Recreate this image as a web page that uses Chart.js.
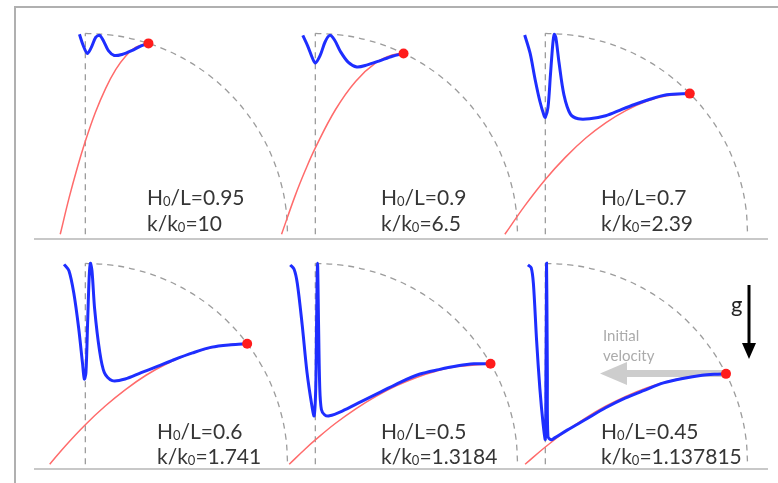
<!DOCTYPE html>
<html>
<head>
<meta charset="utf-8">
<script src="https://cdn.jsdelivr.net/npm/chart.js@4"></script>
<style>
  html, body { margin: 0; padding: 0; background: #fff; }
  #stage { position: relative; z-index: 0; width: 778px; height: 483px; overflow: hidden; font-family: Lato, "Open Sans", sans-serif; }
  .frame { position: absolute; left: 14px; top: 6px; width: 780px; height: 490px; border-top: 2px solid #b0b0b0; border-left: 2px solid #b0b0b0; }
  .ground { position: absolute; left: 34px; width: 734px; height: 2px; background: #c8c8c8; }
  canvas.panel { position: absolute; }
  .lbl { position: absolute; color: #363636; font-size: 21px; line-height: 1; white-space: nowrap; }
  .lbl .s { font-size: 13px; position: relative; top: 1px; }
  svg { position: absolute; left: 0; top: 0; }
</style>
</head>
<body>
<div id="stage">
  <div class="frame"></div>
  <div class="ground" style="top:238px"></div>
  <div class="ground" style="top:468px"></div>
  <svg width="778" height="483">
    <rect x="624" y="370" width="106" height="7" fill="#cdcdcd"/>
    <polygon points="627,362 627,385 600,373.5" fill="#cdcdcd"/>
  </svg>
</div>
<script>
// panel labels
const hRatio = ['0.95', '0.9', '0.7', '0.6', '0.5', '0.45'];
const kRatio = ['10', '6.5', '2.39', '1.741', '1.3184', '1.137815'];

// release point of each rod (red dot), in units of L
const dotX = [0.312, 0.436, 0.714, 0.8, 0.866, 0.893];
const dotY = [0.95, 0.9, 0.7, 0.6, 0.5, 0.45];

// rod shapes (blue)
const rod1 = [[-0.029, 0.995], [-0.010, 0.938], [0.010, 0.900], [0.029, 0.929], [0.052, 0.981], [0.071, 0.990],
  [0.090, 0.962], [0.114, 0.914], [0.143, 0.890], [0.181, 0.895], [0.229, 0.914], [0.276, 0.938], [0.312, 0.95]];
const rod2 = [[-0.062, 0.990], [-0.038, 0.938], [-0.014, 0.876], [0.0, 0.852], [0.024, 0.890], [0.048, 0.957],
  [0.071, 0.990], [0.095, 0.967], [0.124, 0.910], [0.162, 0.857], [0.205, 0.833], [0.257, 0.843], [0.314, 0.862],
  [0.381, 0.886], [0.436, 0.9]];
const rod3 = [[-0.102, 0.992], [-0.075, 0.900], [-0.051, 0.773], [-0.027, 0.662], [-0.006, 0.590], [0.0, 0.582],
  [0.013, 0.630], [0.025, 0.789], [0.037, 0.948], [0.044, 0.995], [0.052, 0.979], [0.068, 0.852], [0.092, 0.694],
  [0.124, 0.598], [0.163, 0.575], [0.219, 0.575], [0.298, 0.590], [0.378, 0.622], [0.441, 0.646], [0.521, 0.673],
  [0.600, 0.694], [0.714, 0.7]];
const rod4 = [[-0.105, 0.995], [-0.081, 0.963], [-0.057, 0.852], [-0.033, 0.678], [-0.014, 0.503], [-0.005, 0.424],
  [0.003, 0.456], [0.011, 0.694], [0.019, 0.932], [0.025, 1.0], [0.033, 0.963], [0.046, 0.773], [0.070, 0.567],
  [0.094, 0.456], [0.133, 0.416], [0.197, 0.424], [0.276, 0.456], [0.356, 0.487], [0.435, 0.519], [0.530, 0.554],
  [0.625, 0.583], [0.721, 0.595], [0.8, 0.6]];
const rod5 = [[-0.124, 0.992], [-0.105, 0.971], [-0.089, 0.900], [-0.065, 0.694], [-0.041, 0.456], [-0.018, 0.297],
  [-0.006, 0.241], [0.002, 0.376], [0.006, 0.694], [0.011, 1.0], [0.016, 0.694], [0.022, 0.376], [0.030, 0.273],
  [0.046, 0.246], [0.070, 0.241], [0.133, 0.265], [0.229, 0.313], [0.324, 0.360], [0.419, 0.408], [0.514, 0.448],
  [0.610, 0.471], [0.705, 0.490], [0.784, 0.5], [0.866, 0.5]];
const rod6 = [[-0.086, 0.992], [-0.070, 0.979], [-0.059, 0.900], [-0.043, 0.614], [-0.027, 0.376], [-0.011, 0.201],
  [0.0, 0.125], [0.003, 0.456], [0.005, 0.773], [0.006, 1.0], [0.008, 0.773], [0.010, 0.456], [0.013, 0.138],
  [0.029, 0.122], [0.044, 0.130], [0.108, 0.170], [0.203, 0.225], [0.298, 0.281], [0.394, 0.329], [0.489, 0.368],
  [0.584, 0.405], [0.679, 0.427], [0.775, 0.443], [0.838, 0.448], [0.893, 0.45]];

// free-flight paths (red)
const path1 = [[-0.124, 0.0], [-0.08, 0.182], [-0.04, 0.33], [0.0, 0.463], [0.05, 0.607], [0.1, 0.725],
  [0.15, 0.819], [0.2, 0.887], [0.25, 0.931], [0.312, 0.95]];
const path2 = [[-0.167, 0.0], [-0.1, 0.191], [-0.05, 0.317], [0.0, 0.43], [0.1, 0.621], [0.2, 0.762],
  [0.3, 0.854], [0.38, 0.892], [0.436, 0.9]];
const path3 = [[-0.2, 0.0], [-0.1, 0.144], [0.0, 0.273], [0.1, 0.384], [0.2, 0.479], [0.3, 0.556],
  [0.4, 0.617], [0.5, 0.662], [0.6, 0.689], [0.714, 0.7]];
const path4 = [[-0.176, 0.0], [-0.1, 0.09], [0.0, 0.197], [0.1, 0.291], [0.2, 0.373], [0.3, 0.443],
  [0.4, 0.499], [0.5, 0.543], [0.6, 0.575], [0.7, 0.594], [0.8, 0.6]];
const path5 = [[-0.129, 0.0], [-0.05, 0.076], [0.0, 0.121], [0.1, 0.204], [0.2, 0.276], [0.3, 0.338],
  [0.4, 0.39], [0.5, 0.432], [0.6, 0.464], [0.7, 0.486], [0.866, 0.5]];
const path6 = [[-0.1, 0.0], [0.0, 0.086], [0.1, 0.163], [0.2, 0.231], [0.3, 0.29], [0.4, 0.339],
  [0.5, 0.38], [0.6, 0.411], [0.7, 0.433], [0.8, 0.446], [0.893, 0.45]];

// dashed guides: reach circle and the pivot line
const guideArc = [[0, 1], [0.1305, 0.9914], [0.2588, 0.9659], [0.3827, 0.9239], [0.5, 0.866], [0.6088, 0.7934],
  [0.7071, 0.7071], [0.7934, 0.6088], [0.866, 0.5], [0.9239, 0.3827], [0.9659, 0.2588], [0.9914, 0.1305], [1, 0]];
const guideV = [[0, 0], [0, 1]];

const rods = [rod1, rod2, rod3, rod4, rod5, rod6];
const paths = [path1, path2, path3, path4, path5, path6];

// layout: 210px per unit length L
const panelLeft = [34, 264, 494];
const panelTop = [14, 244];
const textLeft = [147, 381, 601, 157, 381, 601];
const textTop = [[186, 212], [186, 212], [186, 212], [420, 445], [420, 445], [420, 445]];

const stage = document.getElementById('stage');
const pts = arr => arr.map(([x, y]) => ({ x, y }));

function makePanel(i) {
    const canvas = document.createElement('canvas');
    canvas.className = 'panel';
    canvas.width = 273;
    canvas.height = 231;
    canvas.style.left = panelLeft[i % 3] + 'px';
    canvas.style.top = panelTop[Math.floor(i / 3)] + 'px';
    stage.appendChild(canvas);

    const dashed = { showLine: true, borderColor: '#9c9c9c', borderWidth: 1.3, borderDash: [6, 5], pointRadius: 0, tension: 0.4 };

    new Chart(canvas, {
        type: 'scatter',
        data: {
            datasets: [
                { data: [{ x: dotX[i], y: dotY[i] }], pointRadius: 5, backgroundColor: '#ff1c1c', borderWidth: 0 },
                { data: pts(rods[i]), showLine: true, borderColor: '#1e2eff', borderWidth: 3, pointRadius: 0, tension: 0.3 },
                { data: pts(paths[i]), showLine: true, borderColor: '#ff6b6b', borderWidth: 1.5, pointRadius: 0, tension: 0.4 },
                Object.assign({ data: pts(guideArc) }, dashed),
                Object.assign({ data: pts(guideV) }, dashed, { tension: 0 })
            ]
        },
        options: {
            responsive: false,
            animation: false,
            events: [],
            layout: { padding: 0 },
            plugins: { legend: { display: false }, tooltip: { enabled: false } },
            scales: {
                x: { type: 'linear', display: false, min: -0.229, max: 1.071 },
                y: { type: 'linear', display: false, min: -0.0286, max: 1.0714 }
            }
        }
    });

    const l1 = document.createElement('div');
    l1.className = 'lbl';
    l1.style.left = textLeft[i] + 'px';
    l1.style.top = textTop[i][0] + 'px';
    l1.innerHTML = 'H<span class="s">0</span>/L=' + hRatio[i];
    stage.appendChild(l1);

    const l2 = document.createElement('div');
    l2.className = 'lbl';
    l2.style.left = textLeft[i] + 'px';
    l2.style.top = textTop[i][1] + 'px';
    l2.innerHTML = 'k/k<span class="s">0</span>=' + kRatio[i];
    stage.appendChild(l2);
}

for (let i = 0; i < 6; i++) makePanel(i);

// gravity arrow and labels
stage.insertAdjacentHTML('beforeend', `
<svg width="778" height="483">
  <line x1="749" y1="285" x2="749" y2="346" stroke="#000" stroke-width="3"/>
  <polygon points="742,343 756,343 749,359" fill="#000"/>
</svg>
<div class="lbl" style="left:731px; top:293px; font-size:22px; color:#222">g</div>
<div class="lbl" style="left:603px; top:325px; font-size:15px; color:#ababab; line-height:20px">Initial<br>velocity</div>
`);
</script>
</body>
</html>
